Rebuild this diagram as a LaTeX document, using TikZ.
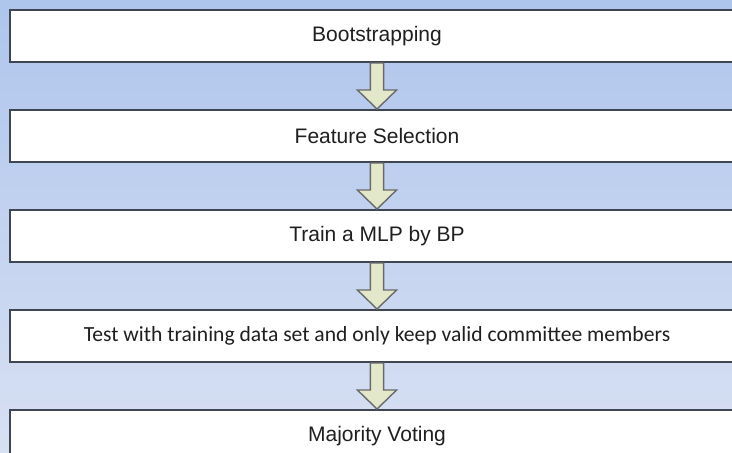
\documentclass[tikz,border=0pt]{standalone}
\usepackage{fontspec}
\setmainfont{Liberation Sans}
\newfontfamily\calibrifont{Carlito}
\usetikzlibrary{positioning}
\definecolor{bgtop}{HTML}{AEC5EC}
\definecolor{bgbottom}{HTML}{D8E0F3}
\definecolor{cborder}{HTML}{3E4652}
\definecolor{carrowfill}{HTML}{E3E8CA}
\definecolor{carrowline}{HTML}{6A6A6A}
\definecolor{ctext}{HTML}{1F1F1F}
\tikzset{
  stage/.style={draw=cborder, fill=white, line width=1pt, minimum width=367pt, minimum height=26pt, inner sep=0pt, text=ctext, font=\fontsize{10.5}{12}\selectfont},
  flowarrow/.style={draw=carrowline, fill=carrowfill, line width=0.7pt, line join=miter},
}

\begin{document}
\begin{tikzpicture}[node distance=23pt]
  \useasboundingbox (0,0) rectangle (366pt,-226pt);
  \clip (0,0) rectangle (366pt,-226pt);
  \fill[top color=bgtop, bottom color=bgbottom] (0,0) rectangle (366pt,-226pt);
  \node[stage] (boot) at (188.5pt,-18pt) {Bootstrapping};
  \node[stage, below=of boot] (feat) {Feature Selection};
  \node[stage, below=of feat] (mlp) {Train a MLP by BP};
  \node[stage, below=of mlp, font=\calibrifont\fontsize{10.8}{12}\selectfont] (test) {Test with training data set and only keep valid committee members};
  \node[stage, below=of test] (vote) {Majority Voting};
  \foreach \a/\b in {boot/feat, feat/mlp, mlp/test, test/vote}
    \draw[flowarrow] ([xshift=-3.3pt]\a.south) -- ([xshift=-3.3pt,yshift=9.5pt]\b.north) -- ([xshift=-9.8pt,yshift=9.5pt]\b.north) -- (\b.north) -- ([xshift=9.8pt,yshift=9.5pt]\b.north) -- ([xshift=3.3pt,yshift=9.5pt]\b.north) -- ([xshift=3.3pt]\a.south) -- cycle;
\end{tikzpicture}
\end{document}
